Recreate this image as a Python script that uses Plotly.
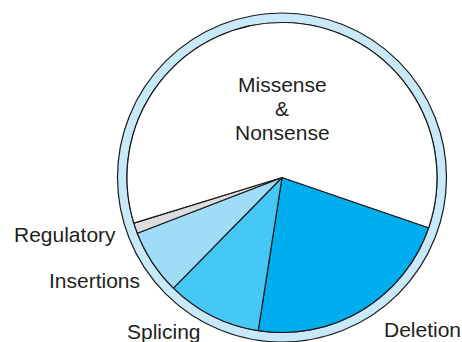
import plotly.graph_objects as go

# Share of disease-causing mutations by type (percent)
categories = ["Deletion", "Splicing", "Insertions", "Regulatory", "Missense<br>&<br>Nonsense"]
shares = [22.2, 9.9, 6.8, 1.1, 60.0]
slice_colors = ["#00aeef", "#45c8f5", "#9edcf7", "#dcddde", "#ffffff"]

W, H = 462, 342
cx, cy = 282, 177.5          # pie centre in pixels
r_pie, r_ring = 155, 164.5   # pie radius and outer ring radius


def dom(r):
    return dict(x=[(cx - r) / W, (cx + r) / W], y=[1 - (cy + r) / H, 1 - (cy - r) / H])


fig = go.Figure()

# light-blue rim around the pie
fig.add_trace(go.Pie(
    values=[1], hole=r_pie / r_ring, sort=False,
    marker=dict(colors=["#c8e9f9"], line=dict(color="#1a1a1a", width=1.2)),
    textinfo="none", hoverinfo="skip", showlegend=False, domain=dom(r_ring),
))

fig.add_trace(go.Pie(
    labels=categories, values=shares, sort=False, direction="clockwise",
    rotation=108.9,
    marker=dict(colors=slice_colors, line=dict(color="#1a1a1a", width=1.2)),
    textinfo="none", showlegend=False, domain=dom(r_pie),
))

font = dict(family="Liberation Sans, Arial, sans-serif", size=21, color="#231f20")

# the big slice's label is stacked line by line with tighter leading
for i, line in enumerate(categories[4].split("<br>")):
    fig.add_annotation(
        text=line, x=282 / W, y=1 - (84 + 24.5 * i) / H, xref="paper", yref="paper",
        xanchor="center", yanchor="middle", showarrow=False, font=font,
    )

# (label, x px, y px, x anchor)
label_spots = [
    (categories[3], 118, 234, "right"),
    (categories[2], 142, 280, "right"),
    (categories[1], 125, 331, "left"),
    (categories[0], 382, 329, "left"),
]
for text, px, py, anchor in label_spots:
    fig.add_annotation(
        text=text, x=px / W, y=1 - py / H, xref="paper", yref="paper",
        xanchor=anchor, yanchor="middle", showarrow=False, font=font,
    )

fig.update_layout(
    width=W, height=H, margin=dict(l=0, r=0, t=0, b=0),
    paper_bgcolor="white", plot_bgcolor="white",
)

fig.write_html("out.html")
